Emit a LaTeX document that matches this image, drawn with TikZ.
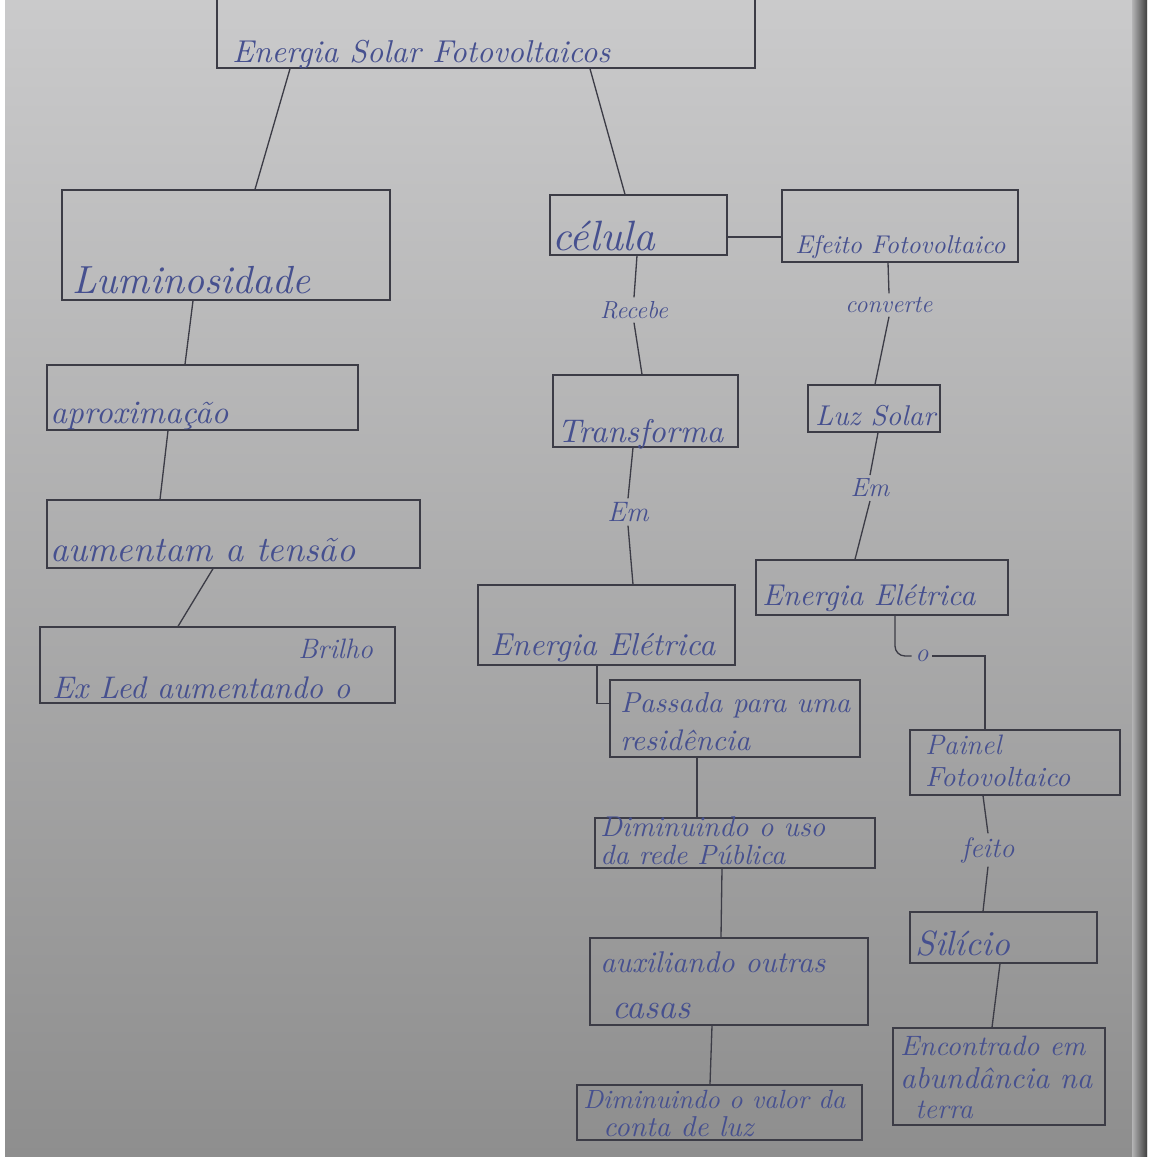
\documentclass[tikz,border=0pt]{standalone}
\usetikzlibrary{fit}
\newlength\tpx \setlength\tpx{0.02cm}
\newcommand\hw[2]{\resizebox{#1\tpx}{!}{\itshape #2}}
\newcommand\fz[2]{{\fontsize{#1}{#1}\selectfont\itshape #2}}
\definecolor{ink}{HTML}{46508F}
\definecolor{lead}{HTML}{3C3C46}
\definecolor{papertop}{HTML}{CACACB}
\definecolor{papermid}{HTML}{B4B4B5}
\definecolor{paperbot}{HTML}{8E8E8E}
\begin{document}
\begin{tikzpicture}[x=0.02cm,y=-0.02cm,
  box/.style={draw=lead, line width=0.75pt, inner sep=0pt},
  txt/.style={anchor=base west, inner sep=0pt, text=ink},
  lbl/.style={inner sep=2pt, text=ink},
  con/.style={draw=lead, line width=0.75pt}]
\useasboundingbox (0,0) rectangle (1152,1157);
\fill[white] (0,0) rectangle (1152,1157);
\shade[top color=papertop, middle color=papermid, bottom color=paperbot] (5,0) rectangle (1147,1157);
\shade[left color=papermid, right color=black!75] (1132,0) rectangle (1147,1157);

% boxes
\node[box, fit={(217,-5)(755,68)}] (top) {};
\node[box, fit={(62,190)(390,300)}] (lum) {};
\node[box, fit={(47,365)(358,430)}] (apro) {};
\node[box, fit={(47,500)(420,568)}] (aum) {};
\node[box, fit={(40,627)(395,703)}] (ex) {};
\node[box, fit={(550,195)(727,255)}] (cel) {};
\node[box, fit={(782,190)(1018,262)}] (efe) {};
\node[box, fit={(553,375)(738,447)}] (tra) {};
\node[box, fit={(808,385)(940,432)}] (luz) {};
\node[box, fit={(478,585)(735,665)}] (eel) {};
\node[box, fit={(756,560)(1008,615)}] (eer) {};
\node[box, fit={(610,680)(860,757)}] (pas) {};
\node[box, fit={(595,818)(875,868)}] (dim1) {};
\node[box, fit={(590,938)(868,1025)}] (aux) {};
\node[box, fit={(577,1085)(862,1140)}] (dim2) {};
\node[box, fit={(910,730)(1120,795)}] (pai) {};
\node[box, fit={(910,912)(1097,963)}] (sil) {};
\node[box, fit={(893,1028)(1105,1125)}] (enc) {};

% texts in boxes
\node[txt] (t1) at (232,62) {\hw{378}{Energia Solar Fotovoltaicos}};
\node[txt] (t2) at (72,293) {\hw{238}{Luminosidade}};
\node[txt] (t3) at (50,423) {\hw{178}{aproximação}};
\node[txt] (t4) at (50,561) {\hw{305}{aumentam a tensão}};
\node[txt] (t5a) at (298,658) {\fz{16}{Brilho}};
\node[txt] (t5) at (52,698) {\hw{298}{Ex Led aumentando o}};
\node[txt] (t6) at (552,250) {\hw{103}{célula}};
\node[txt] (t7) at (795,253) {\hw{210}{Efeito Fotovoltaico}};
\node[txt] (t8) at (557,442) {\hw{166}{Transforma}};
\node[txt] (t9) at (815,425) {\hw{120}{Luz Solar}};
\node[txt] (t10) at (490,655) {\hw{225}{Energia Elétrica}};
\node[txt] (t11) at (762,605) {\hw{213}{Energia Elétrica}};
\node[txt] (t12a) at (620,712) {\hw{230}{Passada para uma}};
\node[txt] (t12b) at (620,750) {\hw{130}{residência}};
\node[txt] (t13a) at (600,836) {\hw{225}{Diminuindo o uso}};
\node[txt] (t13b) at (600,864) {\hw{185}{da rede Pública}};
\node[txt] (t14a) at (600,972) {\hw{225}{auxiliando outras}};
\node[txt] (t14b) at (612,1018) {\hw{78}{casas}};
\node[txt] (t15a) at (583,1108) {\hw{262}{Diminuindo o valor da}};
\node[txt] (t15b) at (603,1136) {\hw{150}{conta de luz}};
\node[txt] (t16a) at (925,754) {\fz{16}{Painel}};
\node[txt] (t16b) at (925,786) {\hw{145}{Fotovoltaico}};
\node[txt] (t17) at (915,955) {\hw{95}{Silício}};
\node[txt] (t18a) at (900,1055) {\hw{185}{Encontrado em}};
\node[txt] (t18b) at (900,1088) {\hw{192}{abundância na}};
\node[txt] (t18c) at (915,1118) {\fz{16}{terra}};

% link labels
\node[lbl] (rec) at (634,310) {\fz{14}{Recebe}};
\node[lbl] (em1) at (628,512) {\fz{16}{Em}};
\node[lbl] (conv) at (889,305) {\fz{14}{converte}};
\node[lbl] (em2) at (870,488) {\fz{15}{Em}};
\node[lbl] (fei) at (988,850) {\fz{16}{feito}};
\node[lbl] (o) at (922,656) {\fz{15}{o}};

% connectors
\draw[con] ([xshift=-3.92cm]top.south) -- ([xshift=0.58cm]lum.north);
\draw[con] ([xshift=2.08cm]top.south) -- ([xshift=-0.27cm]cel.north);
\draw[con] ([xshift=-0.66cm]lum.south) -- ([xshift=-0.35cm]apro.north);
\draw[con] ([xshift=-0.69cm]apro.south) -- ([xshift=-1.47cm]aum.north);
\draw[con] ([xshift=-0.41cm]aum.south) -- ([xshift=-0.79cm]ex.north);
\draw[con] ([yshift=-0.24cm]cel.east) -- ([yshift=-0.24cm]cel.east -| efe.west);
\draw[con] ([xshift=-0.03cm]cel.south) -- (rec.north);
\draw[con] (rec.south) -- ([xshift=-0.07cm]tra.north);
\draw[con] ([xshift=-0.25cm]tra.south) -- (em1.north);
\draw[con] (em1.south) -- ([xshift=0.53cm]eel.north);
\draw[con] ([xshift=-0.24cm]efe.south) -- (conv.north);
\draw[con] (conv.south) -- ([xshift=0.02cm]luz.north);
\draw[con] ([xshift=0.08cm]luz.south) -- (em2.north);
\draw[con] (em2.south) -- ([xshift=-0.54cm]eer.north);
\draw[con, rounded corners=0.2cm] ([xshift=0.26cm]eer.south) |- (o.west);
\draw[con] (o.east) -| ([xshift=-0.6cm]pai.north);
\draw[con] ([xshift=-0.64cm]pai.south) -- (fei.north);
\draw[con] (fei.south) -- ([xshift=-0.41cm]sil.north);
\draw[con] ([xshift=-0.07cm]sil.south) -- ([xshift=-0.14cm]enc.north);
\draw[con] ([xshift=-0.19cm]eel.south) |- ([yshift=0.3cm]pas.west);
\draw[con] ([xshift=-0.76cm]pas.south) -- ([xshift=-0.76cm]dim1.north);
\draw[con] ([xshift=-0.26cm]dim1.south) -- ([xshift=-0.16cm]aux.north);
\draw[con] ([xshift=-0.34cm]aux.south) -- ([xshift=-0.19cm]dim2.north);
\end{tikzpicture}
\end{document}
